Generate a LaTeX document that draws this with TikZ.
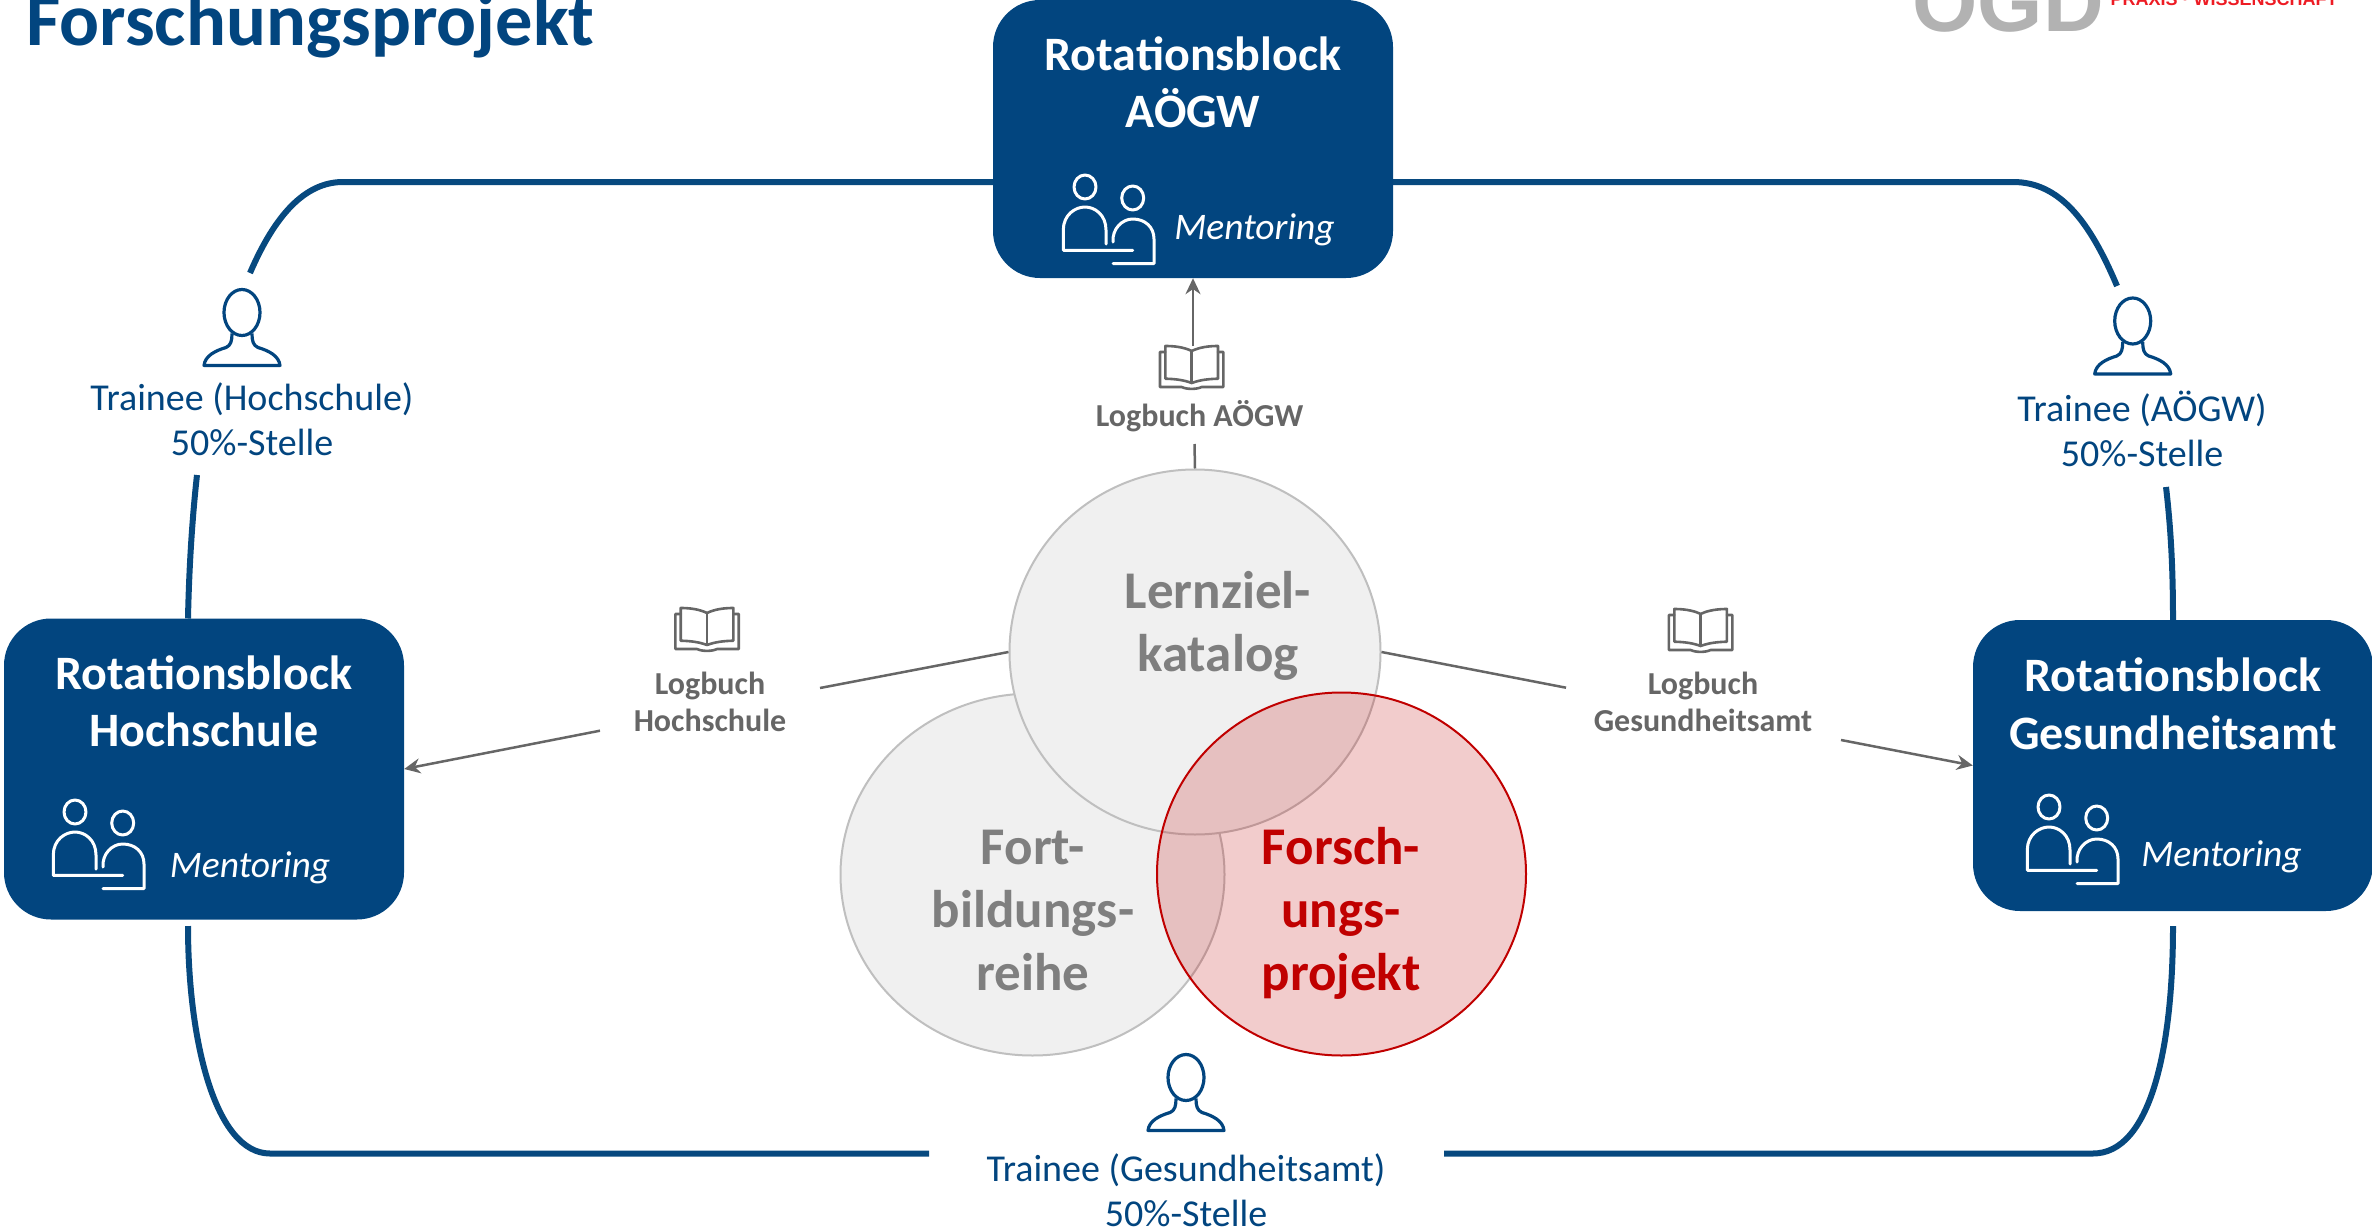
\documentclass[tikz,border=0pt]{standalone}
\usepackage{fontspec}
\setmainfont{Carlito}
\newfontfamily\logofont{Liberation Sans}
\usetikzlibrary{arrows.meta,shapes.geometric}
\definecolor{ogdblue}{HTML}{02457F}
\definecolor{loopblue}{HTML}{07497F}
\definecolor{conngray}{HTML}{666666}
\definecolor{circgray}{HTML}{F0F0F0}
\definecolor{circline}{HTML}{BFBFBF}
\definecolor{circtext}{HTML}{7F7F7F}
\definecolor{ogdred}{HTML}{C00000}
\definecolor{logogray}{HTML}{B2B2B2}
\definecolor{logored}{HTML}{ED1C24}
\newcommand{\fs}[2]{\fontsize{#1}{#2}\selectfont}
\tikzset{
  x=1pt,y=-1pt,
  rotbox/.style={draw=none,fill=ogdblue,rounded corners=47pt,inner sep=0pt,minimum width=400pt},
  rottitle/.style={white,font=\fs{48}{57.5}\bfseries,align=center,inner sep=0pt,anchor=base},
  mentor/.style={white,font=\fs{37.5}{43}\itshape,inner sep=0pt,anchor=base},
  loopline/.style={loopblue,line width=6pt},
  conn/.style={conngray,line width=2.5pt},
  arrowconn/.style={conn,-{Stealth[length=16pt,width=15pt]}},
  traineetext/.style={ogdblue,font=\fs{38}{45.5},align=center,inner sep=0pt,anchor=base},
  logtext/.style={conngray,font=\fs{32}{37.5}\bfseries,align=center,inner sep=0pt,anchor=base},
  graycirc/.style={ellipse,draw=circline,fill=circgray,line width=2pt,inner sep=0pt},
  redcirc/.style={ellipse,draw=ogdred,fill=ogdred,fill opacity=.2,line width=2pt,inner sep=0pt},
  circlabel/.style={font=\fs{53}{63}\bfseries,align=center,inner sep=0pt,anchor=base},
  pics/mentoricon/.style={code={
    \begin{scope}[white,line width=3pt,line join=round,line cap=round]
      \draw (0,0) ellipse [x radius=11,y radius=12];
      \draw (47.7,11) ellipse [x radius=11,y radius=12];
      \draw (21,57) -- (21,43) .. controls (21,28) and (10,20) .. (0,20)
            .. controls (-10,20) and (-21.7,28) .. (-21.7,43) -- (-21.7,63.3) -- (47.7,63.3);
      \draw (28,55) .. controls (27,42) and (37,32) .. (47.7,32)
            .. controls (60,32) and (69,40) .. (69,52) -- (69,76.5) -- (28,76.5);
    \end{scope}
  }},
  pics/personicon/.style={code={
    \begin{scope}[ogdblue,line width=3.2pt,line join=round]
      \draw (0,0) ellipse [x radius=18,y radius=23];
      \draw (-10,21) .. controls (-10,28) and (-11,33) .. (-16,35)
            .. controls (-26,38) and (-37,43) .. (-38,53) -- (38,53)
            .. controls (37,43) and (26,38) .. (16,35)
            .. controls (11,33) and (10,28) .. (10,21);
    \end{scope}
  }},
  pics/bookicon/.style={code={
    \begin{scope}[conngray,line width=2.6pt,line join=round,line cap=round]
      \draw (0,5) .. controls (-8,1) and (-18,0) .. (-26.3,0) -- (-26.3,32.7)
            .. controls (-16,33) and (-8,34) .. (0,37)
            .. controls (8,34) and (16,33) .. (26.3,32.7) -- (26.3,0)
            .. controls (18,0) and (8,1) .. (0,5) -- cycle;
      \draw (0,5) -- (0,37);
      \draw (-26.3,6) -- (-31.7,6) -- (-31.7,41) -- (-10,41)
            .. controls (-5,43.5) and (5,43.5) .. (10,41) -- (31.7,41) -- (31.7,6) -- (26.3,6);
    \end{scope}
  }}
}
\begin{document}
\begin{tikzpicture}
\useasboundingbox (0,0) rectangle (2372,1228);
\clip (0,0) rectangle (2372,1228);

% title and logo (cut by the top edge)
\node[ogdblue,font=\fs{74.5}{80}\bfseries,inner sep=0pt,anchor=base west] (title) at (26,46) {Forschungsprojekt};
\node[logogray,font=\logofont\fs{84}{90}\bfseries,inner sep=0pt,anchor=base] (logo) at (2008,32) {ÖGD};
\node[logored,font=\logofont\fs{18}{20}\bfseries,inner sep=0pt,anchor=base] (logosub) at (2224,6) {PRAXIS · WISSENSCHAFT};

% free ends of the loop
\coordinate (hTop) at (188,618.5);
\coordinate (hTopEnd) at (197,475);
\coordinate (tlStart) at (250,273);
\coordinate (tlBend) at (343,182);
\coordinate (aW) at (993,182);
\coordinate (aE) at (1393,182);
\coordinate (trBend) at (2013,182);
\coordinate (trEnd) at (2117,286);
\coordinate (gTopEnd) at (2166,487);
\coordinate (gTop) at (2173,620);
\coordinate (hBot) at (188,926);
\coordinate (blBend) at (270,1153.5);
\coordinate (blEnd) at (929,1153.5);
\coordinate (gBot) at (2173,926);
\coordinate (brBend) at (2093,1153.5);
\coordinate (brEnd) at (1444,1153.5);

% loop
\draw[loopline] (hTop) .. controls (189,570) and (192,520) .. (hTopEnd);
\draw[loopline] (tlStart) .. controls (275,215) and (305,182) .. (tlBend) -- (aW);
\draw[loopline] (aE) -- (trBend) .. controls (2060,182) and (2090,222) .. (trEnd);
\draw[loopline] (gTopEnd) .. controls (2171,530) and (2173,570) .. (gTop);
\draw[loopline] (hBot) .. controls (188,1040) and (215,1153.5) .. (blBend) -- (blEnd);
\draw[loopline] (gBot) .. controls (2173,1050) and (2150,1153.5) .. (brBend) -- (brEnd);

% rotation blocks
\node[rotbox,minimum height=278pt] (boxA) at (1193,139) {};
\node[rotbox,minimum height=301pt] (boxH) at (204,769) {};
\node[rotbox,minimum height=291pt] (boxG) at (2173,765.5) {};
\node[rottitle] (titleA) at (1193,128) {Rotationsblock\\AÖGW};
\node[rottitle] (titleH) at (204,746.5) {Rotationsblock\\Hochschule};
\node[rottitle] (titleG) at (2173,749) {Rotationsblock\\Gesundheitsamt};
\node[mentor] (mentA) at (1254.5,239.5) {Mentoring};
\node[mentor] (mentH) at (250,877.5) {Mentoring};
\node[mentor] (mentG) at (2221.5,866.5) {Mentoring};
\pic (iconA) at (1085,187) {mentoricon};
\pic (iconH) at (75,812) {mentoricon};
\pic (iconG) at (2049,807) {mentoricon};

% trainees
\pic (persH) at (242,312.5) {personicon};
\pic (persG) at (2132.7,321) {personicon};
\pic (persB) at (1186,1077.5) {personicon};
\node[traineetext] (trH) at (252,455.5) {Trainee (Hochschule)\\50\%-Stelle};
\node[traineetext] (trA) at (2142,466.5) {Trainee (AÖGW)\\50\%-Stelle};
\node[traineetext] (trG) at (1186,1226.5) {Trainee (Gesundheitsamt)\\50\%-Stelle};

% circles
\node[graycirc,minimum width=384pt,minimum height=362pt] (fort) at (1032.5,874.5) {};
\node[graycirc,minimum width=371pt,minimum height=365pt] (lern) at (1195,652) {};
\node[redcirc,minimum width=369pt,minimum height=363pt] (forsch) at (1341.5,874) {};
\node[circlabel,circtext] (lernT) at (1218,671) {Lernziel-\\katalog};
\node[circlabel,circtext] (fortT) at (1033,990) {Fort-\\bildungs-\\reihe};
\node[circlabel,ogdred] (forschT) at (1341,990) {Forsch-\\ungs-\\projekt};

% logbook labels
\pic (bookA) at (1191.7,346) {bookicon};
\pic (bookH) at (707,608) {bookicon};
\pic (bookG) at (1700.6,609) {bookicon};
\node[logtext] (logA) at (1199.6,426.5) {Logbuch AÖGW};
\node[logtext] (logH) at (710,731.5) {Logbuch\\Hochschule};
\node[logtext] (logG) at (1703,731.5) {Logbuch\\Gesundheitsamt};

% connectors
\coordinate (cA1) at (1194.5,444);
\coordinate (cA2) at (1193,346);
\coordinate (cH1) at (820,688);
\coordinate (cH2) at (600,730.7);
\coordinate (cG1) at (1566,687.7);
\coordinate (cG2) at (1841,740);
\draw[conn] (lern.north) -- (cA1);
\draw[arrowconn] (cA2) -- (boxA.south);
\draw[conn] (lern.west) -- (cH1);
\draw[arrowconn] (cH2) -- (boxH.east);
\draw[conn] (lern.east) -- (cG1);
\draw[arrowconn] (cG2) -- (boxG.west);
\end{tikzpicture}
\end{document}
